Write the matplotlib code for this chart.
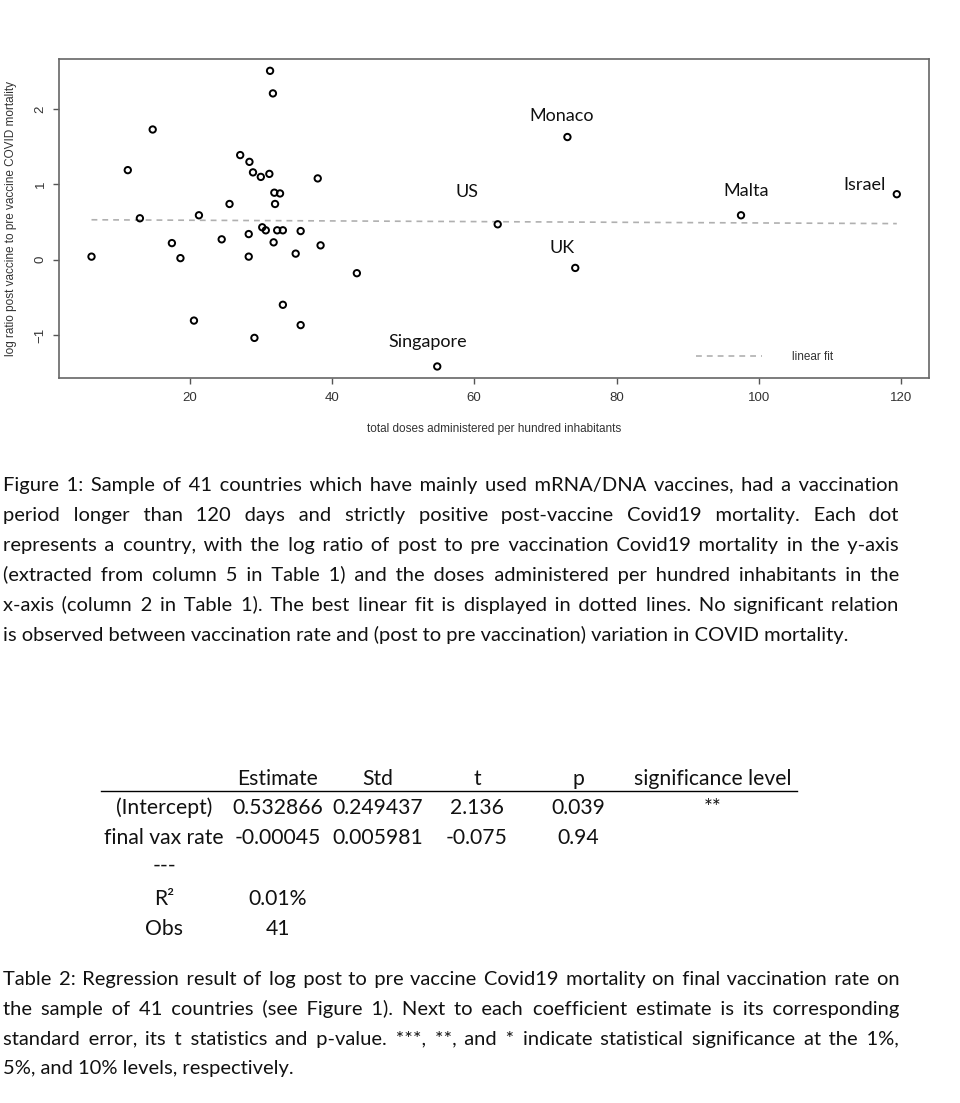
import matplotlib
matplotlib.use("Agg")
import matplotlib.pyplot as plt
from matplotlib.lines import Line2D

# total doses administered per hundred inhabitants, one value per country
doses = [31.3, 31.7, 14.8, 11.3, 27.1, 28.4, 28.9, 30.0, 31.2, 38.0,
         31.9, 32.7, 32.0, 25.6, 21.3, 13.0, 30.2, 30.7, 32.3, 33.1,
         35.6, 28.3, 24.5, 31.8, 17.5, 38.4, 34.9, 6.2, 28.3, 18.7,
         43.5, 33.1, 20.6, 35.6, 29.1,
         54.8, 73.1, 63.3, 97.5, 119.4, 74.2]
# log ratio post vaccine to pre vaccine COVID mortality
log_ratio = [2.51, 2.21, 1.73, 1.19, 1.39, 1.30, 1.16, 1.10, 1.14, 1.08,
             0.89, 0.88, 0.74, 0.74, 0.59, 0.55, 0.43, 0.39, 0.39, 0.39,
             0.38, 0.34, 0.27, 0.23, 0.22, 0.19, 0.08, 0.04, 0.04, 0.02,
             -0.18, -0.60, -0.81, -0.87, -1.04,
             -1.42, 1.63, 0.47, 0.59, 0.87, -0.11]
country = [""] * 35 + ["Singapore", "Monaco", "US", "Malta", "Israel", "UK"]

# regression table (Table 2)
intercept = 0.532866
slope = -0.00045
col_heads = ["Estimate", "Std", "t", "p", "significance level"]
row_names = ["(Intercept)", "final vax rate", "---", "R\u00b2", "Obs"]
estimates = ["0.532866", "-0.00045", "", "0.01%", "41"]
std_errs = ["0.249437", "0.005981", "", "", ""]
t_stats = ["2.136", "-0.075", "", "", ""]
p_vals = ["0.039", "0.94", "", "", ""]
signif = ["**", "", "", "", ""]

fig_caption = [
    "Figure 1: Sample of 41 countries which have mainly used mRNA/DNA vaccines, had a vaccination",
    "period longer than 120 days and strictly positive post-vaccine Covid19 mortality. Each dot",
    "represents a country, with the log ratio of post to pre vaccination Covid19 mortality in the y-axis",
    "(extracted from column 5 in Table 1) and the doses administered per hundred inhabitants in the",
    "x-axis (column 2 in Table 1). The best linear fit is displayed in dotted lines. No significant relation",
    "is observed between vaccination rate and (post to pre vaccination) variation in COVID mortality.",
]
table_caption = [
    "Table 2: Regression result of log post to pre vaccine Covid19 mortality on final vaccination rate on",
    "the sample of 41 countries (see Figure 1). Next to each coefficient estimate is its corresponding",
    "standard error, its t statistics and p-value. ***, **, and * indicate statistical significance at the 1%,",
    "5%, and 10% levels, respectively.",
]

# label offsets from the point (data units)
label_off = {"Monaco": (-0.8, 0.28), "US": (-4.3, 0.43), "Singapore": (-1.4, 0.32),
             "UK": (-1.8, 0.26), "Malta": (0.7, 0.32), "Israel": (-4.6, 0.12)}

W, H = 960, 1103
BODY = ["Lato", "DejaVu Sans"]
AX_FONT = ["Liberation Sans", "DejaVu Sans"]
AX_COL = "#333333"
INK = "#111111"

fig = plt.figure(figsize=(W / 100, H / 100), dpi=100)
ax = fig.add_axes([59.3 / W, 1 - 378.3 / H, (929 - 59.3) / W, (378.3 - 59) / H])

ax.scatter(doses, log_ratio, s=21, facecolors="none", edgecolors="black",
           linewidths=1.4, zorder=3)
x0, x1 = min(doses), max(doses)
ax.plot([x0, x1], [intercept + slope * x0, intercept + slope * x1],
        color="#b0b0b0", lw=1.2, dashes=(3.5, 3), label="linear fit")

for xv, yv, name in zip(doses, log_ratio, country):
    if name:
        dx, dy = label_off[name]
        ax.text(xv + dx, yv + dy, name, ha="center", va="center",
                fontsize=13, family=BODY, color=INK)

# R-style limits: 4% padding around the data
xr = x1 - x0
yr = max(log_ratio) - min(log_ratio)
ax.set_xlim(x0 - 0.04 * xr, x1 + 0.04 * xr)
ax.set_ylim(min(log_ratio) - 0.04 * yr, max(log_ratio) + 0.04 * yr)
ax.set_xticks([20, 40, 60, 80, 100, 120])
ax.set_yticks([-1, 0, 1, 2])
for lab in ax.get_yticklabels():
    lab.set_rotation(90)
    lab.set_va("center")
ax.tick_params(axis="both", length=4, width=1, color="#555555", labelsize=9.5,
               labelcolor=AX_COL)
ax.tick_params(axis="x", pad=6)
ax.tick_params(axis="y", pad=5)
for lab in ax.get_xticklabels() + ax.get_yticklabels():
    lab.set_family(AX_FONT)
for sp in ax.spines.values():
    sp.set_color("#666666")
    sp.set_linewidth(1.2)

ax.set_xlabel("total doses administered per hundred inhabitants", fontsize=8.5,
              family=AX_FONT, color=AX_COL, va="center")
ax.xaxis.set_label_coords(0.5, (378.3 - 429) / 319.3)
ax.set_ylabel("log ratio post vaccine to pre vaccine COVID mortality", fontsize=8.5,
              family=AX_FONT, color=AX_COL, va="center")
ax.yaxis.set_label_coords((11 - 59.3) / 869.7, 0.5)

leg = ax.legend(loc="lower right", bbox_to_anchor=(0.897, 0.03), frameon=False,
                handlelength=5.6, handletextpad=2.6, borderpad=0,
                prop={"family": AX_FONT, "size": 8.5})
for t in leg.get_texts():
    t.set_color(AX_COL)


def px_text(x, y, s, **kw):
    return fig.text(x / W, 1 - y / H, s, family=BODY, **kw)


renderer = fig.canvas.get_renderer()


def text_width(s, size):
    t = px_text(0, 0, s, fontsize=size)
    w = t.get_window_extent(renderer).width
    t.remove()
    return w


def justify(line, size, target):
    # widen the word gaps with hair spaces so the line spans the full width
    words = line.split(" ")
    n = len(words) - 1
    extra = target - text_width(line, size)
    hair = "\u200a"
    hw = (text_width("a" + hair * 20 + "a", size) - text_width("aa", size)) / 20
    if n == 0 or extra <= 0 or hw <= 0:
        return line
    out, added = words[0], 0.0
    for j in range(1, n + 1):
        k = int(round((extra * j / n - added) / hw))
        out += " " + hair * max(k, 0) + words[j]
        added += max(k, 0) * hw
    return out


def paragraph(lines, left, right, baselines, size):
    for i, (line, yb) in enumerate(zip(lines, baselines)):
        if i < len(lines) - 1:
            line = justify(line, size, right - left)
        px_text(left, yb, line, fontsize=size, va="baseline", color=INK)


paragraph(fig_caption, 3, 899, [491, 521, 551, 581, 611, 641], 14.5)
paragraph(table_caption, 3, 899, [985, 1015, 1045, 1074], 14.5)

# regression table
TS = 15.2
col_x = [278, 378, 477, 578, 713]
for cx, head in zip(col_x, col_heads):
    px_text(cx, 785, head, fontsize=TS, ha="center", va="baseline", color=INK)
fig.add_artist(Line2D([101 / W, 797 / W], [1 - 791 / H, 1 - 791 / H],
                      color="black", lw=1.0))
row_y = [814, 844, 872, 905, 935]
for i, yb in enumerate(row_y):
    cells = [row_names[i], estimates[i], std_errs[i], t_stats[i], p_vals[i], signif[i]]
    for cx, s in zip([164] + col_x, cells):
        if s:
            px_text(cx, yb, s, fontsize=TS, ha="center", va="baseline", color=INK)

fig.savefig("out.png", dpi=100)
